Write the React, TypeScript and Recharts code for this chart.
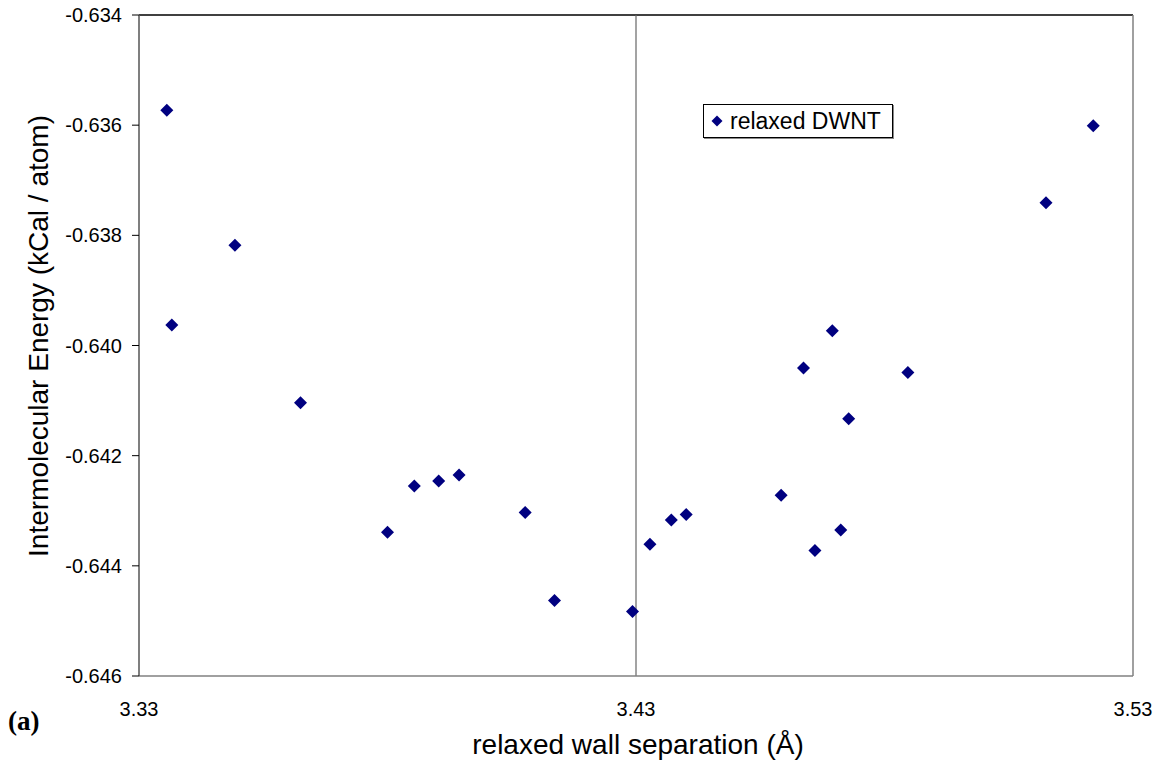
import { ScatterChart, Scatter, XAxis, YAxis, ReferenceLine } from "recharts";

// relaxed wall separation (Å)
const separation = [
  3.3356, 3.3493, 3.3366, 3.3625, 3.38, 3.3854, 3.3903, 3.3944, 3.4077, 3.4136, 3.4293, 3.4328,
  3.4371, 3.4401, 3.4592, 3.4637, 3.466, 3.4695, 3.4712, 3.4728, 3.4847, 3.5125, 3.522,
];
// intermolecular energy (kCal / atom)
const energy = [
  -0.63573, -0.63818, -0.63963, -0.64104, -0.64339, -0.64255, -0.64246, -0.64235, -0.64303,
  -0.64463, -0.64483, -0.64361, -0.64317, -0.64307, -0.64272, -0.64041, -0.64372, -0.63973,
  -0.64335, -0.64133, -0.64049, -0.63741, -0.63601,
];
const xTicks = [3.33, 3.43, 3.53];
const yTicks = [-0.646, -0.644, -0.642, -0.64, -0.638, -0.636, -0.634];

const data = separation.map((x, i) => ({ x, y: energy[i] }));

const FONT = "'Liberation Sans', Arial, sans-serif";
const NAVY = "#000080";

function Diamond(props: any) {
  const { cx, cy } = props;
  const r = 6.5;
  return <polygon points={`${cx},${cy - r} ${cx + r},${cy} ${cx},${cy + r} ${cx - r},${cy}`} fill={NAVY} />;
}

export default function App() {
  return (
    <div style={{ position: "absolute", left: 0, top: 0, width: 1161, height: 765, background: "#fff" }}>
      <ScatterChart width={1161} height={765} margin={{ top: 15, right: 28, left: 0, bottom: 0 }}>
        <XAxis
          type="number"
          dataKey="x"
          domain={[3.33, 3.53]}
          ticks={xTicks}
          tickFormatter={(v: number) => v.toFixed(2)}
          height={89}
          tickLine={false}
          tickMargin={20}
          axisLine={{ stroke: "#808080", strokeWidth: 1.5 }}
          tick={{ fill: "#000", fontSize: 20, fontFamily: FONT }}
          label={{
            content: () => (
              <text x={638} y={754} textAnchor="middle" fontSize={28} fontFamily={FONT} fill="#000">
                relaxed wall separation (Å)
              </text>
            ),
          }}
        />
        <YAxis
          type="number"
          dataKey="y"
          domain={[-0.646, -0.634]}
          ticks={yTicks}
          tickFormatter={(v: number) => v.toFixed(3)}
          width={139}
          tickSize={7}
          tickMargin={10}
          axisLine={{ stroke: "#555", strokeWidth: 1.5 }}
          tickLine={{ stroke: "#000" }}
          tick={{ fill: "#000", fontSize: 20, fontFamily: FONT }}
          label={{
            content: () => (
              <text
                transform="translate(48,336) rotate(-90)"
                textAnchor="middle"
                fontSize={28}
                fontFamily={FONT}
                fill="#000"
              >
                Intermolecular Energy (kCal / atom)
              </text>
            ),
          }}
        />
        <ReferenceLine y={-0.634} stroke="#000" strokeWidth={1.5} />
        <ReferenceLine x={3.53} stroke="#808080" strokeWidth={1.5} />
        <ReferenceLine x={3.43} stroke="#666" strokeWidth={1.2} />
        <Scatter name="relaxed DWNT" data={data} shape={Diamond} isAnimationActive={false} />
      </ScatterChart>

      {/* legend box */}
      <div
        style={{
          position: "absolute",
          left: 703,
          top: 104,
          width: 188,
          height: 32,
          border: "1px solid #000",
          background: "#fff",
          boxShadow: "1px 1px 0 #888",
          display: "flex",
          alignItems: "center",
          fontFamily: FONT,
          fontSize: 23,
          color: "#000",
        }}
      >
        <svg width={26} height={32}>
          <polygon points="13,10.5 18.5,16 13,21.5 7.5,16" fill={NAVY} />
        </svg>
        <span>relaxed DWNT</span>
      </div>

      <div
        style={{
          position: "absolute",
          left: 8,
          top: 706,
          fontFamily: "'Liberation Serif', 'Times New Roman', serif",
          fontWeight: "bold",
          fontSize: 27,
          color: "#000",
        }}
      >
        (a)
      </div>
    </div>
  );
}
